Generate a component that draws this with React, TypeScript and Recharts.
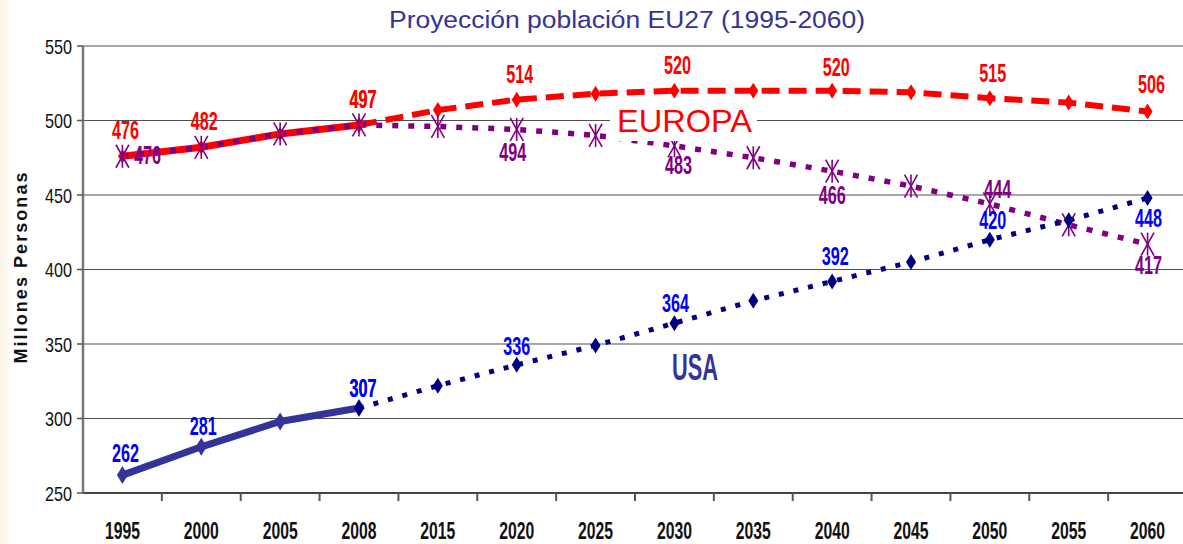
import { LineChart, Line, XAxis, YAxis, CartesianGrid } from "recharts";

// years on the x axis
const years = ["1995", "2000", "2005", "2008", "2015", "2020", "2025", "2030", "2035", "2040", "2045", "2050", "2055", "2060"];

// red series (solid up to 2008, dashed projection from 2008)
const euroHist = [476, 482, 491, 497];
const euroProj = [497, 507, 514, 518, 520, 520, 520, 519, 515, 512, 506];
// purple series (asterisk markers)
const eu27 = [476, 482, 491, 497, 496, 494, 490, 483, 475, 466, 456, 444, 430, 417];
// USA (solid up to 2008, dotted projection from 2008)
const usaHist = [262, 281, 298, 307];
const usaProj = [307, 322, 336, 349, 364, 379, 392, 405, 420, 433, 448];

const yTicks = [250, 300, 350, 400, 450, 500, 550];

const HIST_END = 3; // index of 2008

const data = years.map((year, i) => ({
  year,
  euroHist: i <= HIST_END ? euroHist[i] : null,
  euroProj: i >= HIST_END ? euroProj[i - HIST_END] : null,
  eu27: eu27[i],
  usaHist: i <= HIST_END ? usaHist[i] : null,
  usaProj: i >= HIST_END ? usaProj[i - HIST_END] : null,
}));

// label placement: year -> [dx, baseline dy]
const redLabels: Record<string, [number, number]> = {
  "1995": [3, -17], "2000": [3, -17], "2008": [4, -17], "2020": [3, -17],
  "2030": [3, -17], "2040": [4, -15], "2050": [3, -16], "2060": [4, -19],
};
const purpleLabels: Record<string, [number, number]> = {
  "1995": [25, 8], "2020": [-4, 32], "2030": [4, 28], "2040": [0, 33], "2050": [8, -6], "2060": [1, 30],
};
const blueLabels: Record<string, [number, number]> = {
  "1995": [3, -13], "2000": [2, -12], "2008": [4, -11], "2020": [0, -10],
  "2030": [1, -11], "2040": [3, -16], "2050": [3, -11], "2060": [1, 29],
};

const FONT = "'Liberation Sans', Arial, sans-serif";
const W = 1190;
const H = 544;
const PLOT_L = 83;
const PLOT_R = 1187;
const HALF = (PLOT_R - PLOT_L) / years.length / 2;

const diamond = (cx: number, cy: number, w: number, h: number, fill: string) => (
  <polygon
    points={`${cx},${cy - h / 2} ${cx + w / 2},${cy} ${cx},${cy + h / 2} ${cx - w / 2},${cy}`}
    fill={fill}
  />
);

const asterisk = (cx: number, cy: number, fill: string) => (
  <g stroke={fill} strokeWidth={1.6}>
    <line x1={cx - 6.5} y1={cy - 11.5} x2={cx + 6.5} y2={cy + 11.5} />
    <line x1={cx + 6.5} y1={cy - 11.5} x2={cx - 6.5} y2={cy + 11.5} />
    <line x1={cx} y1={cy - 11.5} x2={cx} y2={cy + 11.5} />
  </g>
);

const dataLabel = (x: number, y: number, text: string, color: string) => (
  <text
    x={x}
    y={y}
    textAnchor="middle"
    fontFamily={FONT}
    fontWeight="bold"
    fontSize={25}
    fill={color}
    textLength={text.length * 9}
    lengthAdjust="spacingAndGlyphs"
  >
    {text}
  </text>
);

function makeDot(
  kind: "diamond" | "asterisk",
  color: string,
  w: number,
  h: number,
  labels: Record<string, [number, number]> | null,
  labelColor: string,
  skip: number[] = []
) {
  return (props: any) => {
    const { cx, cy, index, value, payload } = props;
    if (cx == null || cy == null || value == null || skip.includes(index)) {
      return <g key={`e-${index}`} />;
    }
    const lab = labels ? labels[payload.year] : undefined;
    return (
      <g key={`d-${index}`}>
        {kind === "diamond" ? diamond(cx, cy, w, h, color) : asterisk(cx, cy, color)}
        {lab ? dataLabel(cx + lab[0], cy + lab[1], String(value), labelColor) : null}
      </g>
    );
  };
}

const XTick = (props: any) => {
  const { x, y, payload, index } = props;
  return (
    <g>
      {index < years.length - 1 && (
        <line x1={x + HALF} y1={y} x2={x + HALF} y2={y + 8} stroke="#555" strokeWidth={2} />
      )}
      <text
        x={x}
        y={y + 46}
        textAnchor="middle"
        fontFamily={FONT}
        fontWeight="bold"
        fontSize={24}
        fill="#111"
        textLength={35}
        lengthAdjust="spacingAndGlyphs"
      >
        {payload.value}
      </text>
    </g>
  );
};

const YTick = (props: any) => {
  const { x, y, payload } = props;
  return (
    <text
      x={x}
      y={y + 7.5}
      textAnchor="end"
      fontFamily={FONT}
      fontSize={21}
      fill="#111"
      textLength={27}
      lengthAdjust="spacingAndGlyphs"
    >
      {payload.value}
    </text>
  );
};

export default function App() {
  return (
    <div
      style={{
        position: "absolute",
        left: 0,
        top: 0,
        width: 1183,
        height: H,
        overflow: "hidden",
        background: "linear-gradient(to right, #fbf5e8 0px, #fdfaf3 7px, #ffffff 12px)",
      }}
    >
      <LineChart width={W} height={H} data={data} margin={{ top: 46, right: W - PLOT_R, bottom: 0, left: PLOT_L - 50 }}>
        <CartesianGrid vertical={false} stroke="#505050" strokeWidth={1.2} />
        <XAxis
          dataKey="year"
          interval={0}
          height={51}
          padding={{ left: HALF, right: HALF }}
          tickSize={0}
          tickMargin={0}
          tickLine={false}
          axisLine={{ stroke: "#444", strokeWidth: 2 }}
          tick={<XTick />}
        />
        <YAxis
          width={50}
          domain={[250, 550]}
          ticks={yTicks}
          interval={0}
          tickSize={6}
          tickMargin={5}
          axisLine={{ stroke: "#777", strokeWidth: 2.5 }}
          tickLine={{ stroke: "#555", strokeWidth: 1.5 }}
          tick={<YTick />}
        />
        <Line
          dataKey="euroHist"
          stroke="#ff0000"
          strokeWidth={7}
          isAnimationActive={false}
          connectNulls={false}
          dot={makeDot("diamond", "#ff0000", 9, 14, redLabels, "#ff0000")}
        />
        <Line
          dataKey="euroProj"
          stroke="#ff0000"
          strokeWidth={6}
          strokeDasharray="18 9"
          isAnimationActive={false}
          dot={makeDot("diamond", "#ff0000", 10, 16, redLabels, "#ff0000", [0])}
        />
        <Line
          dataKey="eu27"
          stroke="#800080"
          strokeWidth={5.5}
          strokeDasharray="6 10"
          isAnimationActive={false}
          dot={makeDot("asterisk", "#800080", 13, 23, purpleLabels, "#800080")}
        />
        <Line
          dataKey="usaHist"
          stroke="#333399"
          strokeWidth={7}
          isAnimationActive={false}
          dot={makeDot("diamond", "#333399", 11, 18, blueLabels, "#0000ff")}
        />
        <Line
          dataKey="usaProj"
          stroke="#000080"
          strokeWidth={5}
          strokeDasharray="5 10"
          isAnimationActive={false}
          dot={makeDot("diamond", "#000080", 10, 16, blueLabels, "#0000ff", [0])}
        />
      </LineChart>
      <svg
        width={1183}
        height={H}
        style={{ position: "absolute", left: 0, top: 0, pointerEvents: "none" }}
      >
        <text
          x={627}
          y={28}
          textAnchor="middle"
          fontFamily={FONT}
          fontSize={23}
          fill="#333399"
          textLength={476}
          lengthAdjust="spacingAndGlyphs"
        >
          Proyección población EU27 (1995-2060)
        </text>
        <text
          x={27}
          y={268}
          transform="rotate(-90 27 268)"
          textAnchor="middle"
          fontFamily={FONT}
          fontWeight="bold"
          fontSize={18}
          fill="#111"
          textLength={191}
          lengthAdjust="spacing"
        >
          Millones Personas
        </text>
        <rect x={610} y={102} width={147} height={39} fill="#ffffff" />
        <text
          x={617}
          y={132}
          fontFamily={FONT}
          fontSize={31}
          fill="#ff0000"
          textLength={135}
          lengthAdjust="spacingAndGlyphs"
        >
          EUROPA
        </text>
        <text
          x={672}
          y={380}
          fontFamily={FONT}
          fontWeight="bold"
          fontSize={37}
          fill="#333399"
          textLength={46}
          lengthAdjust="spacingAndGlyphs"
        >
          USA
        </text>
      </svg>
    </div>
  );
}
